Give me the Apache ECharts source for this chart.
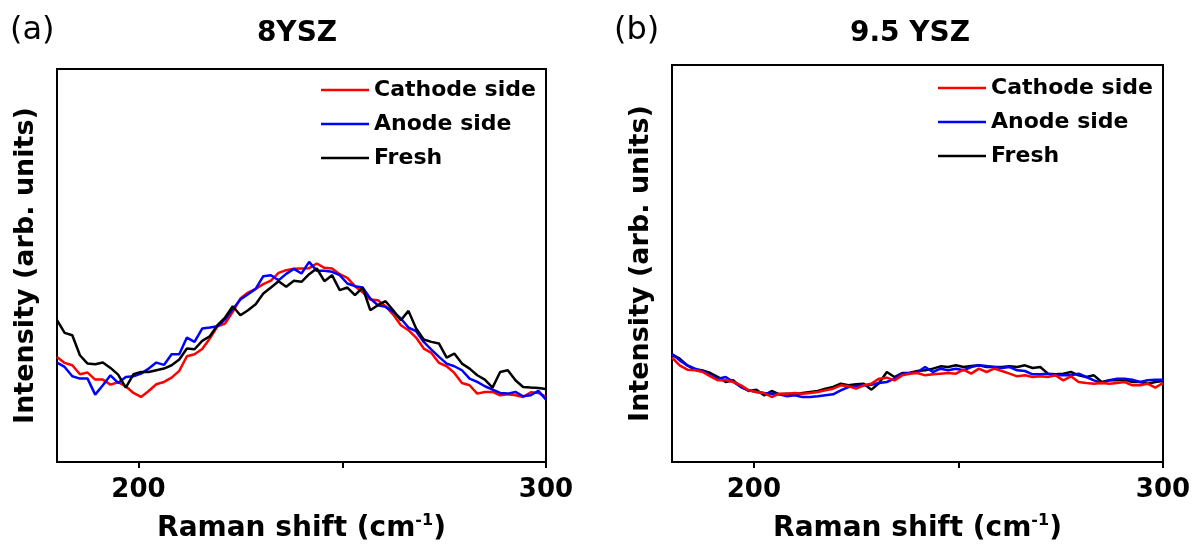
<!DOCTYPE html>
<html><head><meta charset="utf-8">
<script src="https://cdn.jsdelivr.net/npm/echarts@6/dist/echarts.min.js"></script>
<style>html,body{margin:0;padding:0;background:#fff}#c{width:1196px;height:548px}</style>
</head><body><div id="c"></div>
<script>
// Raman shift sampling grid (cm-1), 180..300
const ramanShift = Array.from({length: 65}, (_, i) => 180 + i * 1.875);
const xTicks = [200, 250, 300];
const xLabels = [200, 300];
const seriesNames = ['Cathode side', 'Anode side', 'Fresh'];

// Panel (a) 8YSZ intensities (arb. units)
const a_cathode = [31.5,29.7,29.0,26.3,26.8,24.7,24.7,23.2,23.9,22.7,
  20.7,19.5,21.3,23.3,24.0,25.3,27.3,31.7,32.3,33.9,
  37.0,40.7,41.5,45.0,49.0,50.8,51.9,53.3,54.4,56.7,
  57.5,57.9,58.0,58.1,59.5,58.2,58.0,56.3,55.2,52.7,
  50.9,48.7,48.5,46.7,44.2,41.0,39.5,37.3,34.0,32.7,
  29.7,28.7,26.7,23.7,23.0,20.5,21.0,21.0,20.0,20.3,
  20.0,19.5,20.9,20.7,19.5];
const a_anode = [29.8,28.5,25.7,25.0,25.0,20.2,23.0,26.0,23.7,25.5,
  25.7,26.5,28.0,29.8,29.1,32.3,32.3,37.3,36.0,40.0,
  40.3,40.7,42.8,45.8,48.7,50.3,51.9,55.7,56.0,54.5,
  56.4,57.9,56.5,60.0,57.3,57.3,57.0,56.0,53.5,52.7,
  52.3,49.0,47.0,46.5,45.0,43.0,40.3,39.2,36.0,33.7,
  31.5,29.5,28.7,27.5,25.0,24.0,22.7,21.7,20.7,20.5,
  21.0,19.7,20.0,21.3,18.7];
const a_fresh = [42.5,38.7,38.0,32.0,29.5,29.3,29.8,28.2,26.2,22.3,
  26.3,27.0,27.0,27.5,28.0,29.0,30.7,34.0,33.8,36.3,
  37.7,41.0,43.3,46.7,44.0,45.5,47.3,50.5,52.3,54.2,
  52.5,54.3,54.0,56.3,58.0,54.2,56.0,51.5,52.3,50.0,
  52.3,45.5,47.0,48.2,45.5,42.5,45.3,40.0,36.7,36.0,
  35.5,31.3,32.5,29.5,28.0,26.0,24.7,22.3,27.0,27.5,
  24.5,22.5,22.3,22.2,21.9];

// Panel (b) 9.5 YSZ intensities (arb. units)
const b_cathode = [31.3,29.0,27.7,27.5,27.0,25.7,24.5,24.5,24.0,23.0,
  21.5,21.0,20.7,19.5,20.5,20.5,20.7,20.5,20.7,21.0,
  21.5,22.0,23.0,22.7,22.0,23.0,23.5,25.0,25.3,24.5,
  26.0,26.5,26.7,26.0,26.3,26.5,26.7,26.5,27.7,26.5,
  28.0,27.0,28.0,27.3,26.5,25.7,26.0,25.5,25.7,25.5,
  26.0,24.5,25.7,24.0,23.7,23.5,23.7,23.5,23.7,24.0,
  23.0,23.0,23.5,22.3,23.7];
const b_anode = [32.3,30.5,29.0,28.0,27.3,26.0,25.0,25.5,24.0,22.5,
  21.5,21.0,20.7,20.5,20.3,19.7,20.0,19.5,19.5,19.7,
  20.0,20.3,21.5,22.5,22.8,23.0,23.2,23.7,24.0,25.0,
  26.5,26.7,27.0,28.5,27.0,28.0,27.5,28.0,27.5,28.5,
  29.0,28.8,28.5,28.2,28.5,27.5,27.3,26.3,26.3,26.5,
  26.0,26.0,26.0,26.5,25.5,24.5,23.7,24.5,25.0,25.0,
  24.7,24.0,24.5,24.7,24.7];
const b_fresh = [32.3,31.0,29.0,27.7,27.5,26.7,25.5,24.0,24.5,22.5,
  21.3,21.7,20.0,21.3,20.3,20.5,20.3,20.7,21.0,21.3,
  22.0,22.5,23.5,23.0,23.3,23.5,21.7,23.7,27.0,25.5,
  26.7,26.8,27.3,27.5,28.0,28.7,28.5,29.0,28.5,28.8,
  29.0,28.5,28.5,28.5,28.7,28.5,29.0,28.2,28.5,26.5,
  26.3,26.5,27.0,26.0,25.5,26.0,24.0,24.5,24.5,24.7,
  24.0,24.0,23.5,24.0,24.3];

const FONT = 'DejaVu Sans';
const colors = {'Cathode side': '#ff0000', 'Anode side': '#0000ff', 'Fresh': '#000000'};
const zip = (ys) => ys.map((y, i) => [ramanShift[i], y]);

function xAxisFor(g) {
  return {
    type: 'value', gridIndex: g, min: 180, max: 300,
    axisLine: {show: true, onZero: false, lineStyle: {color: '#000', width: 2}},
    axisTick: {show: true, length: 6, lineStyle: {color: '#000', width: 2}, customValues: xTicks},
    axisLabel: {customValues: xLabels, color: '#000', fontSize: 26, fontWeight: 'bold', fontFamily: FONT, margin: 15},
    splitLine: {show: false},
    name: '{a|Raman shift (cm}{s|-1}{a|)}',
    nameLocation: 'middle', nameGap: 51,
    nameTextStyle: {
      rich: {
        a: {fontSize: 28, fontWeight: 'bold', fontFamily: FONT, color: '#000'},
        s: {fontSize: 16, fontWeight: 'bold', fontFamily: FONT, color: '#000', verticalAlign: 'top', padding: [0, 0, 16, 0]}
      }
    }
  };
}
function yAxisFor(g, max) {
  return {
    type: 'value', gridIndex: g, min: 0, max: max,
    axisLine: {show: true, lineStyle: {color: '#000', width: 2}},
    axisTick: {show: false}, axisLabel: {show: false}, splitLine: {show: false},
    name: 'Intensity (arb. units)', nameLocation: 'middle', nameRotate: 90, nameGap: 18,
    nameTextStyle: {fontSize: 27, fontWeight: 'bold', fontFamily: FONT, color: '#000'}
  };
}
function line(name, data, g) {
  return {
    type: 'line', name: name, xAxisIndex: g, yAxisIndex: g, data: zip(data),
    symbol: 'none', showSymbol: false, clip: true,
    lineStyle: {color: colors[name], width: 2.5}, itemStyle: {color: colors[name]}
  };
}
function legendFor(left, top) {
  return {
    data: seriesNames, orient: 'vertical', left: left, top: top, padding: 0,
    icon: 'rect', itemWidth: 48, itemHeight: 2.5, itemGap: 10, selectedMode: false,
    textStyle: {fontSize: 22, fontWeight: 'bold', fontFamily: FONT, color: '#000', lineHeight: 24}
  };
}

const chart = echarts.init(document.getElementById('c'), null, {renderer: 'canvas'});
chart.setOption({
  animation: false,
  backgroundColor: '#fff',
  title: [
    {text: '(a)', left: 10, top: 15, padding: 0, textStyle: {fontSize: 32, fontWeight: 'normal', fontFamily: FONT, color: '#000'}},
    {text: '8YSZ', left: 297, top: 20, padding: 0, textAlign: 'center', textStyle: {fontSize: 28, fontWeight: 'bold', fontFamily: FONT, color: '#000'}},
    {text: '(b)', left: 614, top: 15, padding: 0, textStyle: {fontSize: 32, fontWeight: 'normal', fontFamily: FONT, color: '#000'}},
    {text: '9.5 YSZ', left: 910, top: 20, padding: 0, textAlign: 'center', textStyle: {fontSize: 28, fontWeight: 'bold', fontFamily: FONT, color: '#000'}}
  ],
  legend: [legendFor(321, 78), legendFor(938, 76)],
  grid: [
    {left: 57, top: 69, width: 489, height: 393, show: true, borderColor: '#000', borderWidth: 2, containLabel: false},
    {left: 672, top: 65, width: 491, height: 397, show: true, borderColor: '#000', borderWidth: 2, containLabel: false}
  ],
  xAxis: [xAxisFor(0), xAxisFor(1)],
  yAxis: [yAxisFor(0, 117.8), yAxisFor(1, 119.1)],
  series: [
    line('Cathode side', a_cathode, 0),
    line('Anode side', a_anode, 0),
    line('Fresh', a_fresh, 0),
    line('Fresh', b_fresh, 1),
    line('Anode side', b_anode, 1),
    line('Cathode side', b_cathode, 1)
  ]
});
</script></body></html>
